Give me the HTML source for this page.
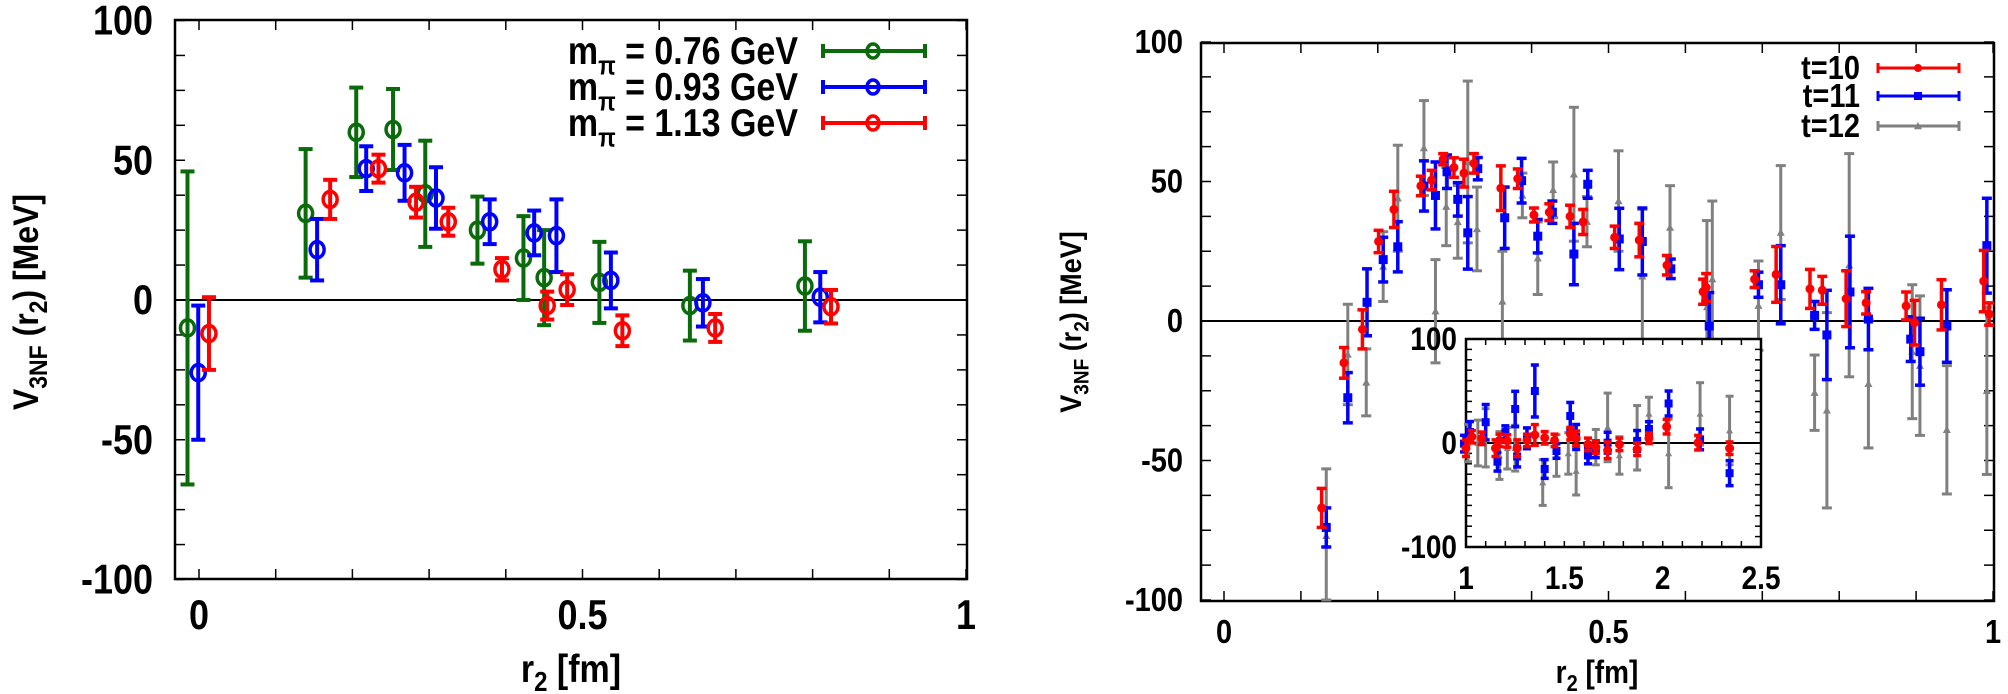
<!DOCTYPE html>
<html><head><meta charset="utf-8"><style>
html,body{margin:0;padding:0;background:#fff}
svg{display:block;font-family:"Liberation Sans",Arial,sans-serif;font-weight:bold}
</style></head><body>
<svg id="chart" width="2008" height="694" viewBox="0 0 2008 694" xmlns="http://www.w3.org/2000/svg"></svg>
<script>
// ---- Left panel data (x, value, error) ----
const leftSeriesNames = ["m_pi 0.76 GeV","m_pi 0.93 GeV","m_pi 1.13 GeV"];
const leftColors = ["#0a6b0a","#0000ff","#ff0000"];
const leftX076 = [-0.015,0.139,0.205,0.253,0.295,0.363,0.423,0.45,0.522,0.64,0.79];
const leftY076 = [-10,31,60,61,38,25,15,8,6.3,-2,5];
const leftE076 = [56,23,16,14.5,19,12,15,17,14.5,12.5,16];
const leftX093 = [-0.001,0.154,0.218,0.268,0.309,0.379,0.437,0.466,0.537,0.657,0.81];
const leftY093 = [-26,18,47,45.5,36.5,28,24,23,7,-1,1];
const leftE093 = [24,11,8,10,11,8,8,13,10,8.5,9];
const leftX113 = [0.013,0.171,0.234,0.283,0.325,0.395,0.454,0.48,0.552,0.673,0.824];
const leftY113 = [-12,36,47,35,28,11,-2,3.7,-11,-10,-2.4];
const leftE113 = [13,7,5,5.5,5,4,5,5.5,5.5,5,6];
const leftYTicks = [100,50,0,-50,-100];
const leftXTicks = [0,0.5,1];

// ---- Right panel data ----
const t10X = [0.127,0.156,0.18,0.201,0.221,0.256,0.27,0.285,0.299,0.312,0.325,0.36,0.382,0.403,0.423,0.45,0.467,0.508,0.54,0.576,0.623,0.627,0.69,0.718,0.762,0.778,0.809,0.835,0.887,0.898,0.933,0.988,0.995];
const t10Y = [-67,-15,-3,28.5,40,48.4,50.5,58,55,53,56.5,47.6,51,38,39,37.5,35.5,30,29,20,10.5,12,15,16.7,11.5,11,8,6.5,5.4,-0.6,5.8,14.3,2.5];
const t10E = [7,5.5,7,4,6.5,3.5,3.5,2,3.5,5,3.5,8,3.5,2.5,3,4,4.5,4,6,3.5,4.5,5,3,10,7,5,10,4,5,8,9,11,4];
const t11X = [0.133,0.161,0.186,0.207,0.226,0.26,0.275,0.29,0.304,0.317,0.33,0.365,0.387,0.408,0.427,0.455,0.473,0.514,0.544,0.581,0.631,0.695,0.724,0.768,0.784,0.814,0.838,0.893,0.905,0.94,0.992];
const t11Y = [-74,-27.5,6.7,22,26.6,48.4,45,53.5,43.6,31.6,54.6,37,50.3,30.4,39,24,49,29.4,28.5,18.7,-1.8,13,13,2,-5,10.4,0.7,-6.5,-11,-1.8,27];
const t11E = [7,9,12,8,9,9,12,6,6,13,4,11,8,6,4,11,5,11,12,3.5,12,4.5,14,5,16,20,11,8,12,13,17];
const t12X = [0.133,0.161,0.185,0.207,0.226,0.26,0.275,0.289,0.304,0.317,0.329,0.362,0.388,0.408,0.428,0.455,0.472,0.513,0.544,0.58,0.628,0.635,0.695,0.724,0.768,0.784,0.813,0.838,0.895,0.905,0.94,0.992];
const t12Y = [-77,-12,-22,19.5,44,62,3.5,41,35.5,57,33,7,45,22.5,47,52.6,35.6,43,16,33.5,5,15,5.5,31.7,-25.7,-32,20,-22.5,-11,-16,-39,-25];
const t12E = [24,18,12,12.5,19,17,18.5,14,13,29,15,18,8,13,10,24,9,18,24,15,31,28,16,24,13.5,35,40,23,24,25,23,30];
const rightYTicks = [100,50,0,-50,-100];
const rightXTicks = [0,0.5,1];

// ---- Inset data ----
const in10X = [1.0,1.03,1.08,1.15,1.17,1.21,1.26,1.31,1.35,1.4,1.45,1.53,1.56,1.62,1.66,1.72,1.78,1.87,1.93,2.02,2.18,2.34];
const in10Y = [-5,6,4.5,-5,2.5,2,-5,2.5,7.7,5,2.5,9,4.5,-1.3,-4,-7,-1.3,-6,4.5,15.7,0.3,-5];
const in10E = [8,6,6,8,6,6,8,6,10,6,6,6,7,6,6,8,6,6,5,7,7,6];
const in11X = [0.99,1.02,1.1,1.16,1.2,1.25,1.26,1.31,1.35,1.4,1.46,1.53,1.56,1.62,1.66,1.72,1.87,1.93,2.03,2.19,2.34];
const in11Y = [-0.6,10.6,20,-18,10.5,32.7,-13,4.5,50,-25,-7.7,26,5.8,-12,-6,0.3,2,13.5,38,3.5,-29];
const in11E = [8,10,17,9,6,17,10,10,25,9,7,13,12,8,8,10,10,7,12,10,12];
const in12X = [1.01,1.06,1.1,1.17,1.21,1.25,1.39,1.46,1.52,1.56,1.66,1.72,1.78,1.87,1.93,2.03,2.19,2.34];
const in12Y = [0,0,5,-12,-5,-5,-38,-12,-10,-27,-4,15,-12,5,28,-10,28,12];
const in12E = [18,22,28,23,20,22,22,20,20,23,17,33,18,31,16,33,30,33];
const insetXTicks = [1,1.5,2,2.5];
const insetYTicks = [100,0,-100];

const NS="http://www.w3.org/2000/svg";
const svg=document.getElementById('chart');
function mk(tag,attrs,parent,text){const e=document.createElementNS(NS,tag);for(const k in attrs)e.setAttribute(k,attrs[k]);if(text!==undefined)e.textContent=text;(parent||svg).appendChild(e);return e;}
const SY=1.15;
// horizontal text stretched vertically like the reference
function htext(parent,x,y,size,anchor,content,isHtml){
  const t=mk('text',{x:0,y:0,'text-anchor':anchor,'font-size':size,transform:`translate(${x},${y}) scale(1,${SY})`},parent);
  if(isHtml)t.innerHTML=content;else t.textContent=content;
  return t;
}

// axis functions
const LX=v=>199+767*v, LY=v=>300-2.795*v;
const RX=v=>1224+769*v, RY=v=>321-2.79*v;
const IX=v=>1466+196.7*(v-1), IY=v=>443-1.04*v;

function frame(g,x0,y0,x1,y1){
  mk('rect',{x:x0,y:y0,width:x1-x0,height:y1-y0,fill:'#fff',stroke:'#000','stroke-width':2.5},g);
}
function ticks(g,xf,yf,xs,ys,x0,y0,x1,y1,len){
  for(const v of xs){const x=xf(v);mk('line',{x1:x,y1:y1,x2:x,y2:y1-len,stroke:'#000','stroke-width':1.5},g);mk('line',{x1:x,y1:y0,x2:x,y2:y0+len,stroke:'#000','stroke-width':1.5},g);}
  for(const v of ys){const y=yf(v);mk('line',{x1:x0,y1:y,x2:x0+len,y2:y,stroke:'#000','stroke-width':1.5},g);mk('line',{x1:x1,y1:y,x2:x1-len,y2:y,stroke:'#000','stroke-width':1.5},g);}
}
function range(a,b,s){const r=[];for(let v=a;v<=b+1e-9;v+=s)r.push(+v.toFixed(4));return r;}
function errbar(g,x,ylo,yhi,color,w,cap){
  mk('line',{x1:x,y1:ylo,x2:x,y2:yhi,stroke:color,'stroke-width':w},g);
  mk('line',{x1:x-cap,y1:ylo,x2:x+cap,y2:ylo,stroke:color,'stroke-width':w},g);
  mk('line',{x1:x-cap,y1:yhi,x2:x+cap,y2:yhi,stroke:color,'stroke-width':w},g);
}
function marker(g,type,x,y,color,size){
  if(type==='ring')mk('ellipse',{cx:x,cy:y,rx:size,ry:size*SY,fill:'none',stroke:color,'stroke-width':3.5},g);
  else if(type==='dot')mk('circle',{cx:x,cy:y,r:size,fill:color},g);
  else if(type==='sq')mk('rect',{x:x-size,y:y-size,width:2*size,height:2*size,fill:color},g);
  else mk('polygon',{points:`${x},${y-size} ${x-size},${y+size*0.8} ${x+size},${y+size*0.8}`,fill:color},g);
}
function series(g,name,X,Y,E,xf,yf,color,type,w,cap,size,ymin,ymax){
  const sg=mk('g',{},g);
  
  
  for(let i=0;i<X.length;i++){
    const x=xf(X[i]);
    const lo=yf(Math.max(Y[i]-E[i],ymin)), hi=yf(Math.min(Y[i]+E[i],ymax));
    errbar(sg,x,lo,hi,color,w,cap);
    if(Y[i]>=ymin&&Y[i]<=ymax) marker(sg,type,x,yf(Y[i]),color,size);
  }
}

// ===== LEFT PANEL =====
const gL=mk('g',{});


frame(gL,175,20,967,579);
ticks(gL,LX,LY,range(0,1,0.1),range(-100,100,12.5),175,20,967,579,10);
mk('line',{x1:175,y1:LY(0),x2:967,y2:LY(0),stroke:'#000','stroke-width':2},gL);
for(const v of leftYTicks){const t=htext(gL,153,LY(v)+14,36,'end',String(v));}
for(const v of leftXTicks){const t=htext(gL,LX(v),629,36,'middle',String(v));}
const lxt=htext(gL,571,682,34,'middle','r<tspan font-size="24" dy="8">2</tspan><tspan dy="-8"> [fm]</tspan>',true);

const lyt=mk('text',{x:0,y:0,'text-anchor':'middle','font-size':32,transform:'translate(38,302) rotate(-90) scale(1,1.1)'},gL);

lyt.innerHTML='V<tspan font-size="23" dy="8">3NF</tspan><tspan dy="-8"> (r</tspan><tspan font-size="23" dy="8">2</tspan><tspan dy="-8">) [MeV]</tspan>';
series(gL,'series-mpi-076',leftX076,leftY076,leftE076,LX,LY,leftColors[0],'ring',4,7,7,-100,100);
series(gL,'series-mpi-093',leftX093,leftY093,leftE093,LX,LY,leftColors[1],'ring',4,7,7,-100,100);
series(gL,'series-mpi-113',leftX113,leftY113,leftE113,LX,LY,leftColors[2],'ring',4,7,7,-100,100);
const legL=[['0.76',51],['0.93',87],['1.13',123]];
legL.forEach((r,i)=>{
  const lg=mk('g',{},gL);
  
  
  htext(lg,798,r[1]+13,34,'end','m<tspan font-size="23" dy="9">π</tspan><tspan dy="-9"> = '+r[0]+' GeV</tspan>',true);
  mk('line',{x1:823,y1:r[1],x2:925,y2:r[1],stroke:leftColors[i],'stroke-width':4},lg);
  mk('line',{x1:823,y1:r[1]-7,x2:823,y2:r[1]+7,stroke:leftColors[i],'stroke-width':4},lg);
  mk('line',{x1:925,y1:r[1]-7,x2:925,y2:r[1]+7,stroke:leftColors[i],'stroke-width':4},lg);
  mk('ellipse',{cx:873,cy:r[1],rx:6,ry:7,fill:'none',stroke:leftColors[i],'stroke-width':3.5},lg);
});

// ===== RIGHT PANEL =====
const gR=mk('g',{});


frame(gR,1201,43,1994,601);
ticks(gR,RX,RY,range(0,1,0.1),range(-100,100,12.5),1201,43,1994,601,10);
mk('line',{x1:1201,y1:RY(0),x2:1994,y2:RY(0),stroke:'#000','stroke-width':2},gR);
for(const v of rightYTicks){const t=htext(gR,1183,RY(v)+11,29,'end',String(v));}
for(const v of rightXTicks){const t=htext(gR,RX(v),643,29,'middle',String(v));}
const rxt=htext(gR,1597,683,28,'middle','r<tspan font-size="20" dy="7">2</tspan><tspan dy="-7"> [fm]</tspan>',true);

const ryt=mk('text',{x:0,y:0,'text-anchor':'middle','font-size':27,transform:'translate(1081,322) rotate(-90) scale(1,1.1)'},gR);

ryt.innerHTML='V<tspan font-size="19" dy="7">3NF</tspan><tspan dy="-7"> (r</tspan><tspan font-size="19" dy="7">2</tspan><tspan dy="-7">) [MeV]</tspan>';
series(gR,'series-t12',t12X,t12Y,t12E,RX,RY,'#808080','tri',3,5,4,-100,100);
series(gR,'series-t11',t11X,t11Y,t11E,RX,RY,'#0000ff','sq',3.5,5,4.5,-100,100);
series(gR,'series-t10',t10X,t10Y,t10E,RX,RY,'#ff0000','dot',3.5,5,4.5,-100,100);

// inset
const gI=mk('g',{},gR);


frame(gI,1466,339,1761,547);
ticks(gI,IX,IY,range(1,2.5,0.1),range(-100,100,10),1466,339,1761,547,6);
mk('line',{x1:1466,y1:IY(0),x2:1761,y2:IY(0),stroke:'#000','stroke-width':2},gI);
for(const v of insetYTicks){const t=htext(gI,1457,IY(v)+11,28,'end',String(v));}
for(const v of insetXTicks){const t=htext(gI,IX(v),589,28,'middle',String(v));}
series(gI,'inset-series-t12',in12X,in12Y,in12E,IX,IY,'#808080','tri',3,4,3.5,-100,100);
series(gI,'inset-series-t11',in11X,in11Y,in11E,IX,IY,'#0000ff','sq',3.5,4,4,-100,100);
series(gI,'inset-series-t10',in10X,in10Y,in10E,IX,IY,'#ff0000','dot',3.5,4,4.5,-100,100);

// right legend
const legR=[['t=10','#ff0000','dot',68],['t=11','#0000ff','sq',96],['t=12','#808080','tri',126]];
legR.forEach(r=>{
  const lg=mk('g',{},gR);
  
  
  htext(lg,1860,r[3]+11,29,'end',r[0]);
  mk('line',{x1:1878,y1:r[3],x2:1959,y2:r[3],stroke:r[1],'stroke-width':3},lg);
  mk('line',{x1:1878,y1:r[3]-5,x2:1878,y2:r[3]+5,stroke:r[1],'stroke-width':3},lg);
  mk('line',{x1:1959,y1:r[3]-5,x2:1959,y2:r[3]+5,stroke:r[1],'stroke-width':3},lg);
  marker(lg,r[2],1918,r[3],r[1],4);
});
</script>
</body></html>
